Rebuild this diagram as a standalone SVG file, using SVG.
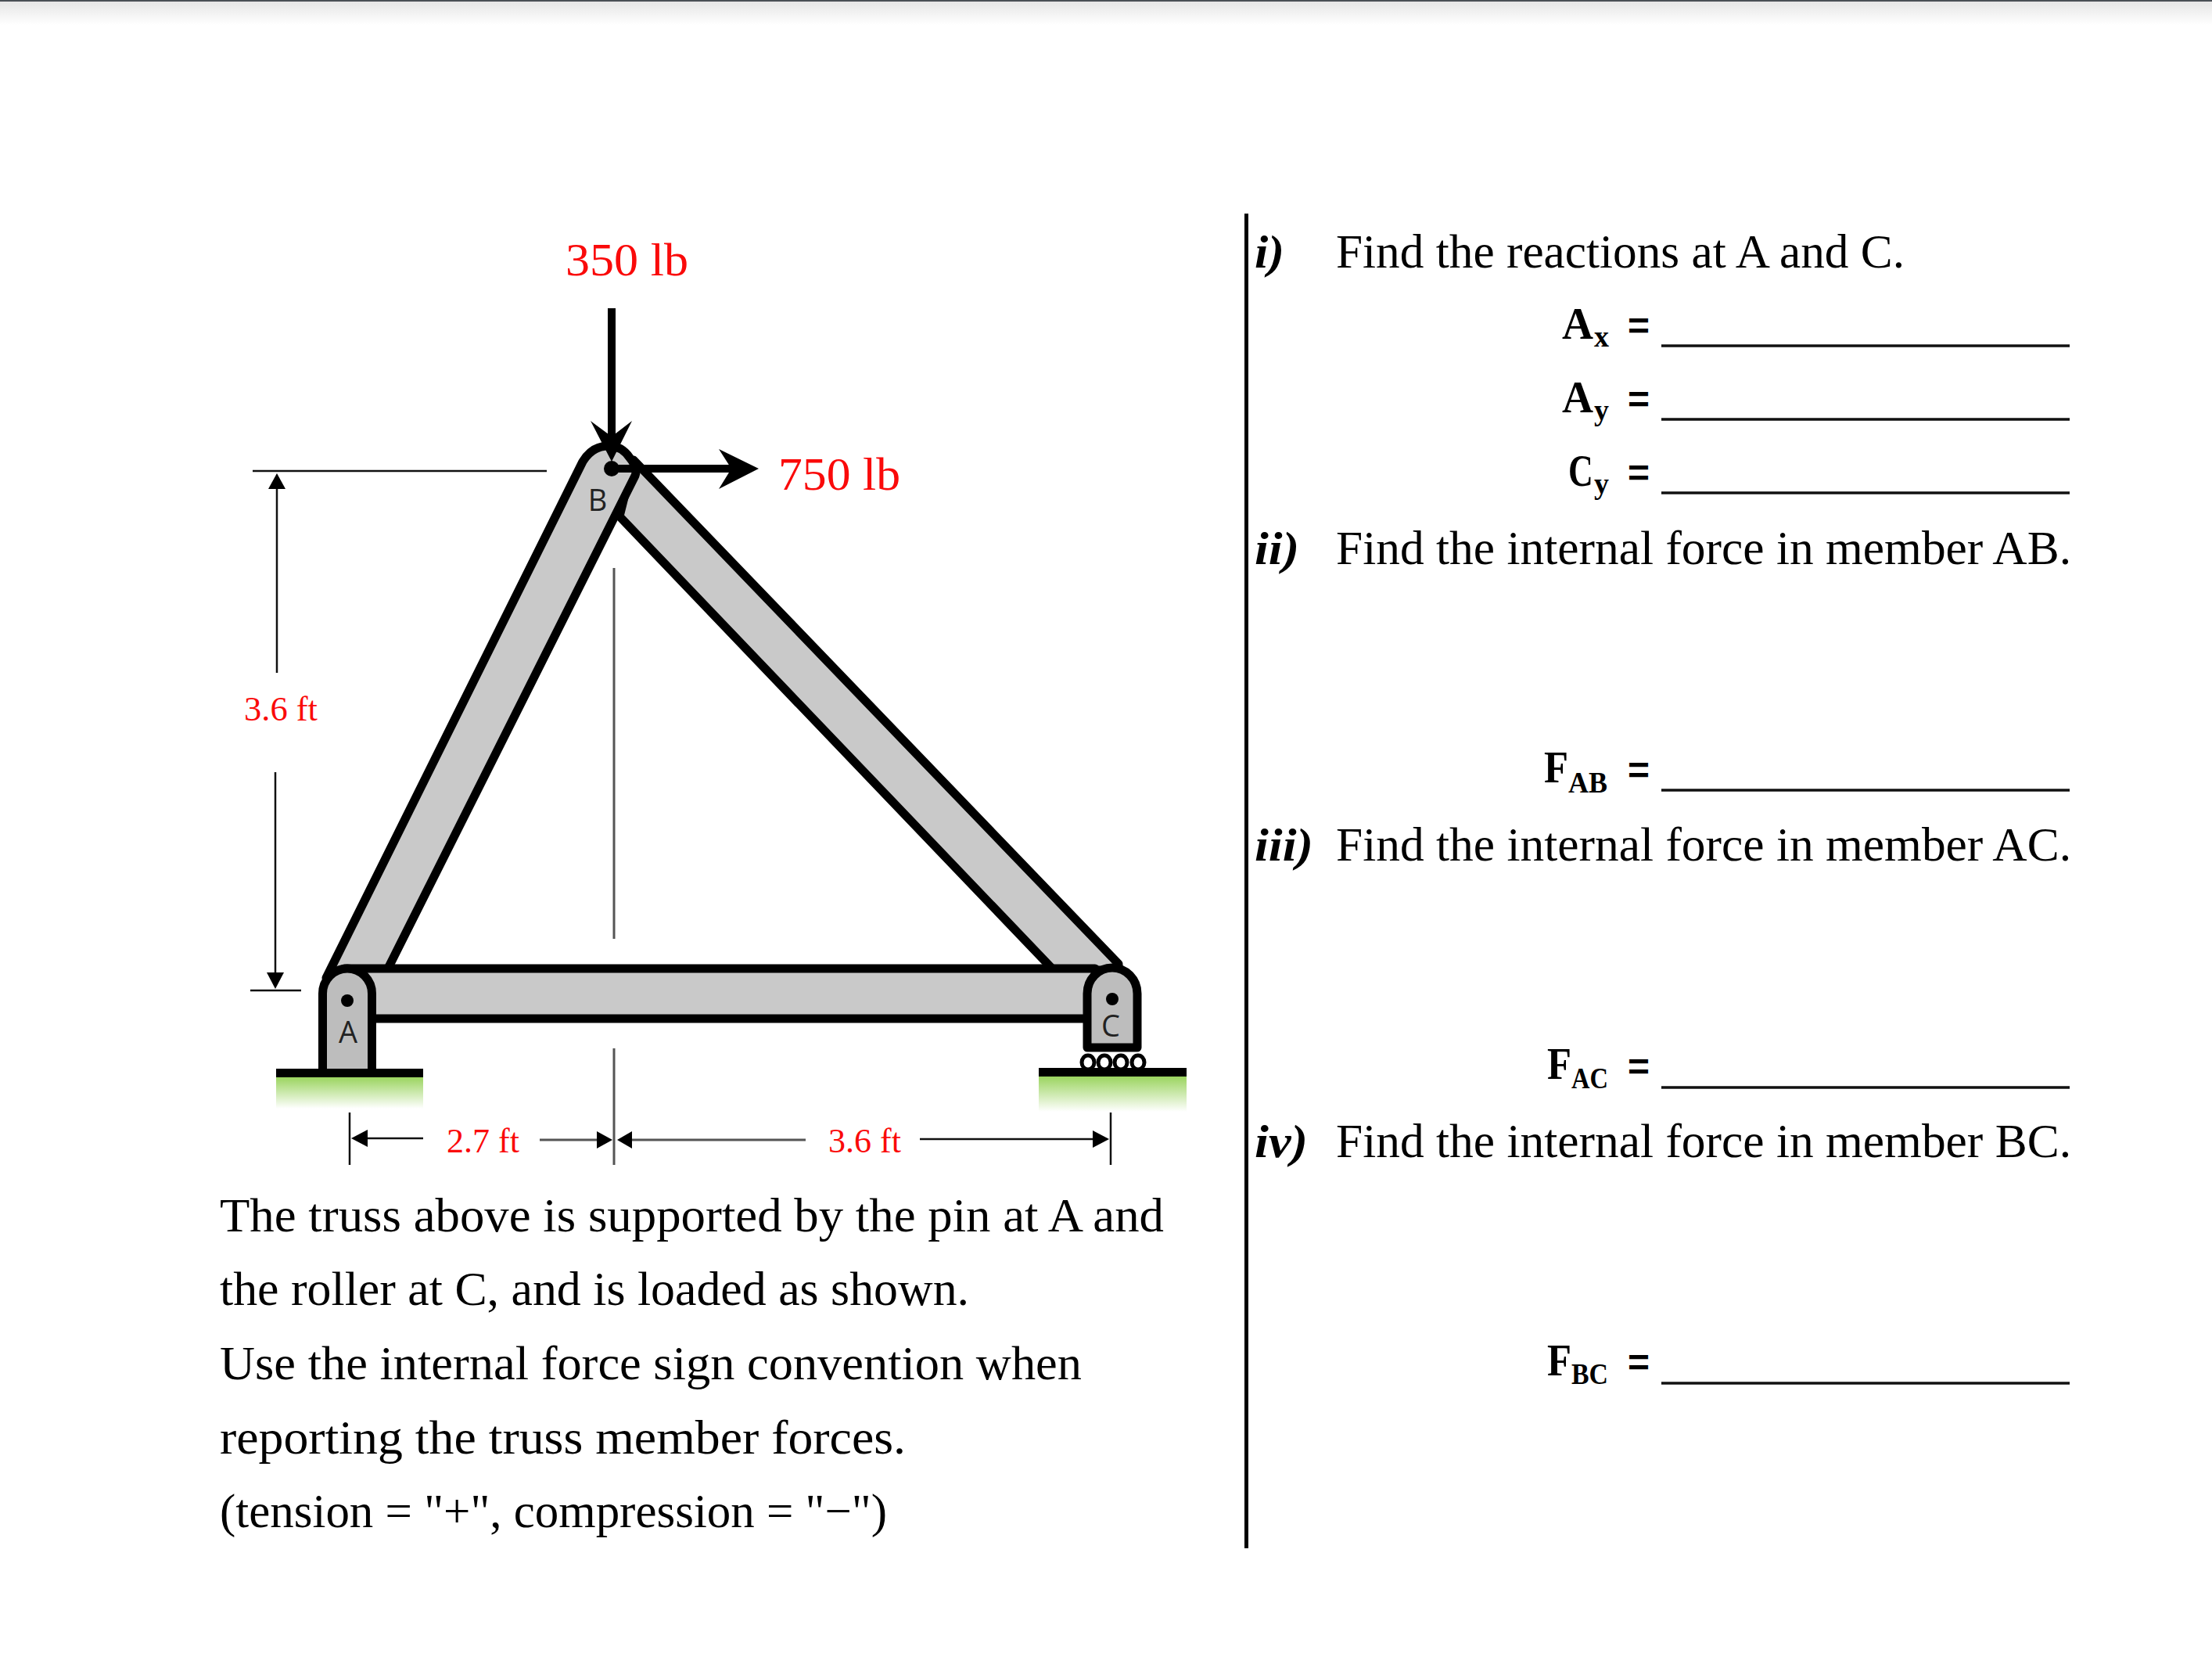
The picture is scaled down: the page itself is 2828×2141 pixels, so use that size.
<svg xmlns="http://www.w3.org/2000/svg" width="2828" height="2141" viewBox="0 0 2828 2141">
<defs>
<linearGradient id="top" x1="0" y1="0" x2="0" y2="1"><stop offset="0" stop-color="#e4e4e4"/><stop offset="1" stop-color="#ffffff"/></linearGradient>
<linearGradient id="grass" x1="0" y1="0" x2="0" y2="1"><stop offset="0" stop-color="#9bd45f"/><stop offset="1" stop-color="#ffffff"/></linearGradient>
</defs>
<style>
.m{fill:#c9c9c9;stroke:#000;stroke-width:11;stroke-linejoin:round}
.h{fill:#bdbdbd;stroke:#000;stroke-width:11;stroke-linejoin:round}
.d{stroke:#111;stroke-width:2.5;fill:none}
.g{stroke:#555;stroke-width:3;fill:none}
.ar{fill:#000;stroke:none}
.s{font-family:"Open Sans","Noto Sans",sans-serif;font-size:38px;fill:#222;text-anchor:middle}
.r{font-family:"Liberation Serif",serif;fill:#fa0a0a}
.t{font-family:"Liberation Serif",serif;font-size:61px;fill:#000}
.n{font-family:"Liberation Serif",serif;font-size:60px;font-weight:bold;font-style:italic;fill:#000}
.b{font-family:"Liberation Serif",serif;font-size:58px;font-weight:bold;fill:#000}
.sb{font-family:"Liberation Serif",serif;font-size:38px;font-weight:bold;fill:#000}
.e{font-family:"Liberation Sans",sans-serif;font-size:48px;font-weight:bold;fill:#000}
.l{stroke:#111;stroke-width:3.5}
</style>
<rect width="2828" height="2141" fill="#fff"/>
<rect y="0" width="2828" height="32" fill="url(#top)"/>
<rect y="0" width="2828" height="2" fill="#4a4f55"/>
<g id="member-BC"><path class="m" d="M810,588 L1430,1232 L1430,1240 L1347,1240 L792,660 Z"/></g>
<g id="member-AB"><path class="m" d="M417,1250 L745,590 Q757,570 778,570 Q795,570 805,585 Q816,598 812,608 L495,1240 Z"/></g>
<g id="member-AC"><rect class="m" x="440" y="1238" width="960" height="64"/></g>
<g id="node-A">
<rect x="353" y="1377" width="188" height="40" fill="url(#grass)"/>
<path class="h" d="M412.500,1372 V1270 A31.500,32 0 0 1 475.500,1270 V1372"/>
<rect x="353" y="1366" width="188" height="11" fill="#000"/>
<circle cx="444" cy="1279" r="8"/>
<text class="s" x="445" y="1333">A</text>
</g>
<g id="node-C">
<rect x="1328" y="1376" width="189" height="45" fill="url(#grass)"/>
<path class="h" d="M1390,1339 V1270 A32,33 0 0 1 1454,1270 V1339 Z"/>
<g fill="#fff" stroke="#000" stroke-width="5">
<ellipse cx="1391" cy="1358" rx="8" ry="9"/><ellipse cx="1412" cy="1358" rx="8" ry="9"/><ellipse cx="1433" cy="1358" rx="8" ry="9"/><ellipse cx="1455" cy="1358" rx="8" ry="9"/>
</g>
<rect x="1328" y="1365" width="189" height="11" fill="#000"/>
<circle cx="1422" cy="1277" r="8"/>
<text class="s" x="1420" y="1325">C</text>
</g>
<g id="node-B"><circle cx="782" cy="599" r="10"/><text class="s" x="764" y="653">B</text></g>
<g id="connectors">
<path d="M782,394 V570" stroke="#000" stroke-width="10"/>
<path class="ar" d="M782,590 L755,538 L782,558 L808,538 Z"/>
<path d="M782,599 H940" stroke="#000" stroke-width="10"/>
<path class="ar" d="M970,599 L919,574 L935,599 L919,625 Z"/>
<path class="d" d="M323,602 H699 M354,625 V860 M352,987 V1245 M320,1266 H385"/>
<path class="ar" d="M354,605 L343,625 L365,625 Z"/>
<path class="ar" d="M352,1264 L341,1243 L363,1243 Z"/>
<path class="g" d="M785,726 V1200 M785,1340 V1489"/>
<path class="d" d="M447,1422 V1489 M1420,1422 V1489 M470,1455 H541 M1176,1456 H1400"/>
<path class="g" d="M690,1457 H765 M808,1457 H1030"/>
<path class="ar" d="M449,1455 L470,1444 L470,1466 Z"/>
<path class="ar" d="M783,1457 L763,1446 L763,1468 Z"/>
<path class="ar" d="M789,1457 L808,1446 L808,1468 Z"/>
<path class="ar" d="M1418,1456 L1397,1445 L1397,1467 Z"/>
</g>
<g id="labels">
<text class="r" x="723" y="352" font-size="60" textLength="157" lengthAdjust="spacingAndGlyphs">350 lb</text>
<text class="r" x="995" y="626" font-size="60" textLength="156" lengthAdjust="spacingAndGlyphs">750 lb</text>
<text class="r" x="312" y="921" font-size="44" textLength="94" lengthAdjust="spacingAndGlyphs">3.6 ft</text>
<text class="r" x="571" y="1473" font-size="44" textLength="93" lengthAdjust="spacingAndGlyphs">2.7 ft</text>
<text class="r" x="1059" y="1473" font-size="44" textLength="93" lengthAdjust="spacingAndGlyphs">3.6 ft</text>
<text class="t" x="281" y="1574" textLength="1207" lengthAdjust="spacingAndGlyphs">The truss above is supported by the pin at A and</text>
<text class="t" x="281" y="1668" textLength="958" lengthAdjust="spacingAndGlyphs">the roller at C, and is loaded as shown.</text>
<text class="t" x="281" y="1763" textLength="1102" lengthAdjust="spacingAndGlyphs">Use the internal force sign convention when</text>
<text class="t" x="281" y="1858" textLength="877" lengthAdjust="spacingAndGlyphs">reporting the truss member forces.</text>
<text class="t" x="281" y="1952" textLength="853" lengthAdjust="spacingAndGlyphs">(tension = "+", compression = "−")</text>
</g>
<g id="questions">
<rect x="1591" y="273" width="5" height="1706" fill="#000"/>
<text class="n" x="1604" y="342" textLength="38" lengthAdjust="spacingAndGlyphs">i)</text>
<text class="t" x="1708" y="342" textLength="727" lengthAdjust="spacingAndGlyphs">Find the reactions at A and C.</text>
<text class="b" x="1997" y="433" textLength="40" lengthAdjust="spacingAndGlyphs">A</text><text class="sb" x="2038" y="443">x</text><text class="e" x="2081" y="433" textLength="28" lengthAdjust="spacingAndGlyphs">=</text><line class="l" x1="2124" x2="2646" y1="442" y2="442"/>
<text class="b" x="1997" y="527" textLength="40" lengthAdjust="spacingAndGlyphs">A</text><text class="sb" x="2038" y="537">y</text><text class="e" x="2081" y="527" textLength="28" lengthAdjust="spacingAndGlyphs">=</text><line class="l" x1="2124" x2="2646" y1="536" y2="536"/>
<text class="b" transform="translate(2005,621) scale(.76,1)">C</text><text class="sb" x="2038" y="631">y</text><text class="e" x="2081" y="621" textLength="28" lengthAdjust="spacingAndGlyphs">=</text><line class="l" x1="2124" x2="2646" y1="630" y2="630"/>
<text class="n" x="1604" y="721" textLength="57" lengthAdjust="spacingAndGlyphs">ii)</text>
<text class="t" x="1708" y="721" textLength="940" lengthAdjust="spacingAndGlyphs">Find the internal force in member AB.</text>
<text class="b" x="1974" y="1000" textLength="31" lengthAdjust="spacingAndGlyphs">F</text><text class="sb" x="2005" y="1013" textLength="50" lengthAdjust="spacingAndGlyphs">AB</text><text class="e" x="2081" y="1001" textLength="28" lengthAdjust="spacingAndGlyphs">=</text><line class="l" x1="2124" x2="2646" y1="1010" y2="1010"/>
<text class="n" x="1604" y="1100" textLength="75" lengthAdjust="spacingAndGlyphs">iii)</text>
<text class="t" x="1708" y="1100" textLength="940" lengthAdjust="spacingAndGlyphs">Find the internal force in member AC.</text>
<text class="b" x="1978" y="1379" textLength="31" lengthAdjust="spacingAndGlyphs">F</text><text class="sb" x="2009" y="1391" textLength="47" lengthAdjust="spacingAndGlyphs">AC</text><text class="e" x="2081" y="1380" textLength="28" lengthAdjust="spacingAndGlyphs">=</text><line class="l" x1="2124" x2="2646" y1="1390" y2="1390"/>
<text class="n" x="1604" y="1479" textLength="68" lengthAdjust="spacingAndGlyphs">iv)</text>
<text class="t" x="1708" y="1479" textLength="940" lengthAdjust="spacingAndGlyphs">Find the internal force in member BC.</text>
<text class="b" x="1978" y="1758" textLength="31" lengthAdjust="spacingAndGlyphs">F</text><text class="sb" x="2009" y="1769" textLength="47" lengthAdjust="spacingAndGlyphs">BC</text><text class="e" x="2081" y="1758" textLength="28" lengthAdjust="spacingAndGlyphs">=</text><line class="l" x1="2124" x2="2646" y1="1768" y2="1768"/>
</g>
</svg>
